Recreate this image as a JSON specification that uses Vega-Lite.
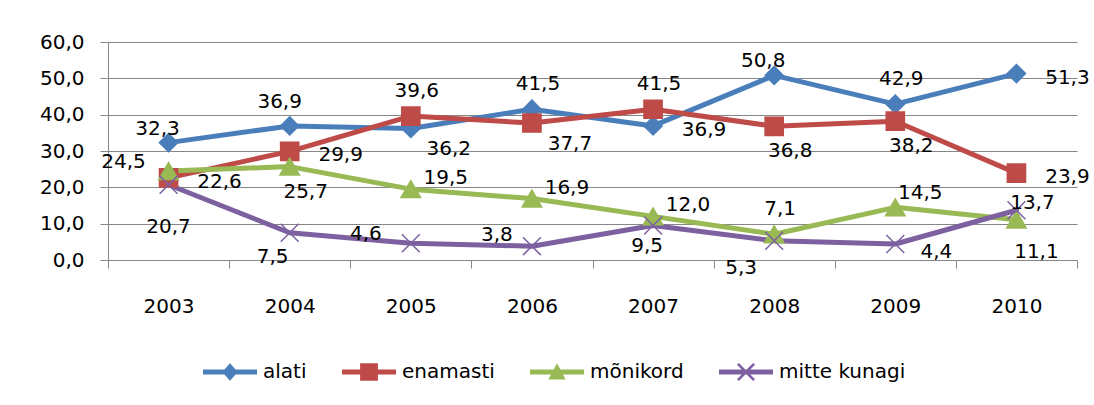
{
  "$schema": "https://vega.github.io/schema/vega-lite/v6.json",
  "autosize": {"type": "none"},
  "padding": {"left": 108, "top": 42, "right": 17, "bottom": 145},
  "width": 969,
  "height": 218,
  "background": "white",
  "config": {
    "font": "DejaVu Sans",
    "view": {"stroke": null},
    "locale": {"number": {"decimal": ",", "thousands": " ", "grouping": [3], "currency": ["", " €"]}},
    "axis": {"labelFont": "DejaVu Sans", "labelFontSize": 20, "labelColor": "#000000", "domainColor": "#868686", "tickColor": "#868686", "gridColor": "#868686", "gridWidth": 1, "domainWidth": 1, "tickWidth": 1, "title": null}
  },
  "data": {"values": [
    {"year": "2003", "series": "alati", "value": 32.3},
    {"year": "2004", "series": "alati", "value": 36.9},
    {"year": "2005", "series": "alati", "value": 36.2},
    {"year": "2006", "series": "alati", "value": 41.5},
    {"year": "2007", "series": "alati", "value": 36.9},
    {"year": "2008", "series": "alati", "value": 50.8},
    {"year": "2009", "series": "alati", "value": 42.9},
    {"year": "2010", "series": "alati", "value": 51.3},
    {"year": "2003", "series": "enamasti", "value": 22.6},
    {"year": "2004", "series": "enamasti", "value": 29.9},
    {"year": "2005", "series": "enamasti", "value": 39.6},
    {"year": "2006", "series": "enamasti", "value": 37.7},
    {"year": "2007", "series": "enamasti", "value": 41.5},
    {"year": "2008", "series": "enamasti", "value": 36.8},
    {"year": "2009", "series": "enamasti", "value": 38.2},
    {"year": "2010", "series": "enamasti", "value": 23.9},
    {"year": "2003", "series": "mõnikord", "value": 24.5},
    {"year": "2004", "series": "mõnikord", "value": 25.7},
    {"year": "2005", "series": "mõnikord", "value": 19.5},
    {"year": "2006", "series": "mõnikord", "value": 16.9},
    {"year": "2007", "series": "mõnikord", "value": 12.0},
    {"year": "2008", "series": "mõnikord", "value": 7.1},
    {"year": "2009", "series": "mõnikord", "value": 14.5},
    {"year": "2010", "series": "mõnikord", "value": 11.1},
    {"year": "2003", "series": "mitte kunagi", "value": 20.7},
    {"year": "2004", "series": "mitte kunagi", "value": 7.5},
    {"year": "2005", "series": "mitte kunagi", "value": 4.6},
    {"year": "2006", "series": "mitte kunagi", "value": 3.8},
    {"year": "2007", "series": "mitte kunagi", "value": 9.5},
    {"year": "2008", "series": "mitte kunagi", "value": 5.3},
    {"year": "2009", "series": "mitte kunagi", "value": 4.4},
    {"year": "2010", "series": "mitte kunagi", "value": 13.7}
  ]},
  "encoding": {
    "x": {"field": "year", "type": "ordinal", "scale": {"type": "band", "paddingInner": 0, "paddingOuter": 0},
      "axis": {"labelAngle": 0, "tickBand": "extent", "tickSize": 8, "labelPadding": 28, "grid": false}},
    "y": {"field": "value", "type": "quantitative", "scale": {"domain": [0, 60], "nice": false},
      "axis": {"values": [0, 10, 20, 30, 40, 50, 60], "format": ".1f", "tickSize": 8, "labelPadding": 16, "grid": true, "labelBaseline": "middle"}}
  },
  "layer": [
    {
      "mark": {"type": "line", "strokeWidth": 5, "strokeJoin": "round", "strokeCap": "round"},
      "encoding": {
        "color": {"field": "series", "type": "nominal",
          "scale": {"domain": ["alati", "enamasti", "mõnikord", "mitte kunagi"], "range": ["#4A7EBB", "#BE4B48", "#98B954", "#7D60A0"]},
          "legend": {"title": null, "orient": "none", "legendX": 95, "legendY": 303, "direction": "horizontal", "padding": 0,
            "symbolSize": 2916, "symbolOpacity": 1, "symbolStrokeWidth": 0, "labelOffset": 6, "columnPadding": 35, "labelFont": "DejaVu Sans", "labelFontSize": 20, "labelColor": "#000000"}}
      }
    },
    {
      "mark": {"type": "point", "filled": true, "opacity": 1, "size": 0},
      "encoding": {
        "color": {"field": "series", "type": "nominal"},
        "shape": {"field": "series", "type": "nominal",
          "scale": {"domain": ["alati", "enamasti", "mõnikord", "mitte kunagi"], "range": [
            "M-1,-0.09L1,-0.09L1,0.09L-1,0.09ZM0,-0.32L0.29,0L0,0.32L-0.29,0Z",
            "M-1,-0.09L1,-0.09L1,0.09L-1,0.09ZM-0.33,-0.32L0.33,-0.32L0.33,0.32L-0.33,0.32Z",
            "M-1,-0.09L1,-0.09L1,0.09L-1,0.09ZM0,-0.32L0.32,0.28L-0.32,0.28Z",
            "M-1,-0.09L1,-0.09L1,0.09L-1,0.09ZM-0.265,-0.335L0.335,0.265L0.265,0.335L-0.335,-0.265ZM-0.335,0.265L0.265,-0.335L0.335,-0.265L-0.265,0.335Z"]}}
      }
    },
    {"transform": [{"filter": "datum.series === 'alati'"}],
     "mark": {"type": "point", "shape": "diamond", "filled": true, "size": 330, "fill": "#4A7EBB", "stroke": "#4A7EBB", "strokeWidth": 1.5, "opacity": 1}},
    {"transform": [{"filter": "datum.series === 'enamasti'"}],
     "mark": {"type": "point", "shape": "square", "filled": true, "size": 330, "fill": "#BE4B48", "stroke": "#BE4B48", "strokeWidth": 1.5, "opacity": 1}},
    {"transform": [{"filter": "datum.series === 'mõnikord'"}],
     "mark": {"type": "point", "shape": "triangle-up", "filled": true, "size": 380, "fill": "#98B954", "stroke": "#98B954", "strokeWidth": 1.5, "opacity": 1}},
    {"transform": [{"filter": "datum.series === 'mitte kunagi'"}],
     "mark": {"type": "point", "shape": "M-1,-1L1,1M-1,1L1,-1", "filled": false, "size": 320, "stroke": "#7D60A0", "strokeWidth": 1.5, "opacity": 1}},
    {"transform": [{"filter": "indexof(['alati2007','alati2010','enamasti2003','enamasti2004','enamasti2010'], datum.series + datum.year) >= 0"}],
     "mark": {"type": "text", "dx": 51, "dy": 4, "fontSize": 20, "color": "#000000"},
     "encoding": {"text": {"field": "value", "format": ".1f"}}},
    {"transform": [{"filter": "indexof(['alati2005','enamasti2006'], datum.series + datum.year) >= 0"}],
     "mark": {"type": "text", "dx": 38, "dy": 21, "fontSize": 20, "color": "#000000"},
     "encoding": {"text": {"field": "value", "format": ".1f"}}},
    {"transform": [{"filter": "indexof(['enamasti2008','enamasti2009','mõnikord2004'], datum.series + datum.year) >= 0"}],
     "mark": {"type": "text", "dx": 16, "dy": 25, "fontSize": 20, "color": "#000000"},
     "encoding": {"text": {"field": "value", "format": ".1f"}}},
    {"transform": [{"filter": "indexof(['alati2006','enamasti2007','alati2009','enamasti2005','mõnikord2008'], datum.series + datum.year) >= 0"}],
     "mark": {"type": "text", "dx": 6, "dy": -25, "fontSize": 20, "color": "#000000"},
     "encoding": {"text": {"field": "value", "format": ".1f"}}},
    {"transform": [{"filter": "indexof(['alati2004'], datum.series + datum.year) >= 0"}],
     "mark": {"type": "text", "dx": -10, "dy": -24, "fontSize": 20, "color": "#000000"},
     "encoding": {"text": {"field": "value", "format": ".1f"}}},
    {"transform": [{"filter": "indexof(['alati2003','alati2008'], datum.series + datum.year) >= 0"}],
     "mark": {"type": "text", "dx": -11, "dy": -14, "fontSize": 20, "color": "#000000"},
     "encoding": {"text": {"field": "value", "format": ".1f"}}},
    {"transform": [{"filter": "indexof(['mõnikord2005','mõnikord2006','mõnikord2007'], datum.series + datum.year) >= 0"}],
     "mark": {"type": "text", "dx": 35, "dy": -11, "fontSize": 20, "color": "#000000"},
     "encoding": {"text": {"field": "value", "format": ".1f"}}},
    {"transform": [{"filter": "indexof(['mõnikord2009'], datum.series + datum.year) >= 0"}],
     "mark": {"type": "text", "dx": 25, "dy": -14, "fontSize": 20, "color": "#000000"},
     "encoding": {"text": {"field": "value", "format": ".1f"}}},
    {"transform": [{"filter": "indexof(['mitte kunagi2010'], datum.series + datum.year) >= 0"}],
     "mark": {"type": "text", "dx": 16, "dy": -7, "fontSize": 20, "color": "#000000"},
     "encoding": {"text": {"field": "value", "format": ".1f"}}},
    {"transform": [{"filter": "indexof(['mõnikord2003','mitte kunagi2005'], datum.series + datum.year) >= 0"}],
     "mark": {"type": "text", "dx": -45, "dy": -9, "fontSize": 20, "color": "#000000"},
     "encoding": {"text": {"field": "value", "format": ".1f"}}},
    {"transform": [{"filter": "indexof(['mitte kunagi2006'], datum.series + datum.year) >= 0"}],
     "mark": {"type": "text", "dx": -35, "dy": -11, "fontSize": 20, "color": "#000000"},
     "encoding": {"text": {"field": "value", "format": ".1f"}}},
    {"transform": [{"filter": "indexof(['mitte kunagi2007'], datum.series + datum.year) >= 0"}],
     "mark": {"type": "text", "dx": -6, "dy": 21, "fontSize": 20, "color": "#000000"},
     "encoding": {"text": {"field": "value", "format": ".1f"}}},
    {"transform": [{"filter": "indexof(['mitte kunagi2004'], datum.series + datum.year) >= 0"}],
     "mark": {"type": "text", "dx": -17, "dy": 24, "fontSize": 20, "color": "#000000"},
     "encoding": {"text": {"field": "value", "format": ".1f"}}},
    {"transform": [{"filter": "indexof(['mitte kunagi2008'], datum.series + datum.year) >= 0"}],
     "mark": {"type": "text", "dx": -33, "dy": 27, "fontSize": 20, "color": "#000000"},
     "encoding": {"text": {"field": "value", "format": ".1f"}}},
    {"transform": [{"filter": "indexof(['mõnikord2010'], datum.series + datum.year) >= 0"}],
     "mark": {"type": "text", "dx": 20, "dy": 32, "fontSize": 20, "color": "#000000"},
     "encoding": {"text": {"field": "value", "format": ".1f"}}},
    {"transform": [{"filter": "indexof(['mitte kunagi2003'], datum.series + datum.year) >= 0"}],
     "mark": {"type": "text", "dx": 0, "dy": 42, "fontSize": 20, "color": "#000000"},
     "encoding": {"text": {"field": "value", "format": ".1f"}}},
    {"transform": [{"filter": "indexof(['mitte kunagi2009'], datum.series + datum.year) >= 0"}],
     "mark": {"type": "text", "dx": 41, "dy": 8, "fontSize": 20, "color": "#000000"},
     "encoding": {"text": {"field": "value", "format": ".1f"}}}
  ]
}
